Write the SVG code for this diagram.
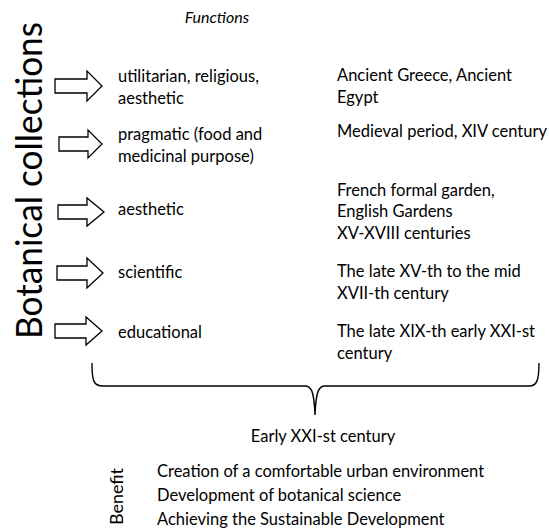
<svg xmlns="http://www.w3.org/2000/svg" width="549" height="532" viewBox="0 0 549 532">
<style>
text{font-family:Lato,"Liberation Sans",sans-serif;font-size:16.5px;fill:#000}
.it{font-style:italic;font-size:16px}
.big{font-size:36px}
.arr{fill:#fff;stroke:#000;stroke-width:1.3;stroke-linejoin:miter}
.br{fill:none;stroke:#000;stroke-width:1.4}
</style>
<rect width="549" height="532" fill="#fff"/>
<g id="title"><text class="big" transform="translate(42,339) rotate(-90)" textLength="317" lengthAdjust="spacingAndGlyphs">Botanical collections</text></g>
<g id="functions-header"><text class="it" x="217" y="23" text-anchor="middle">Functions</text></g>
<g id="connectors">
<polygon class="arr" points="55,79 87,79 87,71 102,86 87,101 87,93 55,93"/>
<polygon class="arr" points="59,137 88,137 88,130 102,144 88,158 88,151 59,151"/>
<polygon class="arr" points="58,205 87,205 87,198 104,212 87,226 87,219 58,219"/>
<polygon class="arr" points="57,266 87,266 87,258 103,273 87,288 87,280 57,280"/>
<polygon class="arr" points="55,324 86,324 86,317 102,331 86,345 86,338 55,338"/>
<path class="br" d="M92,363 C92,380 93,386 103,386 L305,386 C311,386 314,390 315,415 C316,390 319,386 325,386 L529,386 C537,386 539,380 539,363"/>
</g>
<g id="row1"><text x="118" y="82">utilitarian, religious,</text><text x="118" y="104">aesthetic</text><text x="337" y="81">Ancient Greece, Ancient</text><text x="337" y="103">Egypt</text></g>
<g id="row2"><text x="118" y="140">pragmatic (food and</text><text x="118" y="162">medicinal purpose)</text><text x="337" y="137">Medieval period, XIV century</text></g>
<g id="row3"><text x="118" y="215">aesthetic</text><text x="337" y="196">French formal garden,</text><text x="337" y="217">English Gardens</text><text x="337" y="239">XV-XVIII centuries</text></g>
<g id="row4"><text x="118" y="278">scientific</text><text x="337" y="277">The late XV-th to the mid</text><text x="337" y="299">XVII-th century</text></g>
<g id="row5"><text x="118" y="338">educational</text><text x="337" y="337">The late XIX-th early XXI-st</text><text x="337" y="359">century</text></g>
<g id="early"><text x="323" y="442" text-anchor="middle">Early XXI-st century</text></g>
<g id="benefit"><text transform="translate(123,525) rotate(-90)" style="font-size:18px" textLength="57" lengthAdjust="spacingAndGlyphs">Benefit</text><text x="157" y="477">Creation of a comfortable urban environment</text><text x="157" y="501">Development of botanical science</text><text x="157" y="525">Achieving the Sustainable Development</text></g>
</svg>
